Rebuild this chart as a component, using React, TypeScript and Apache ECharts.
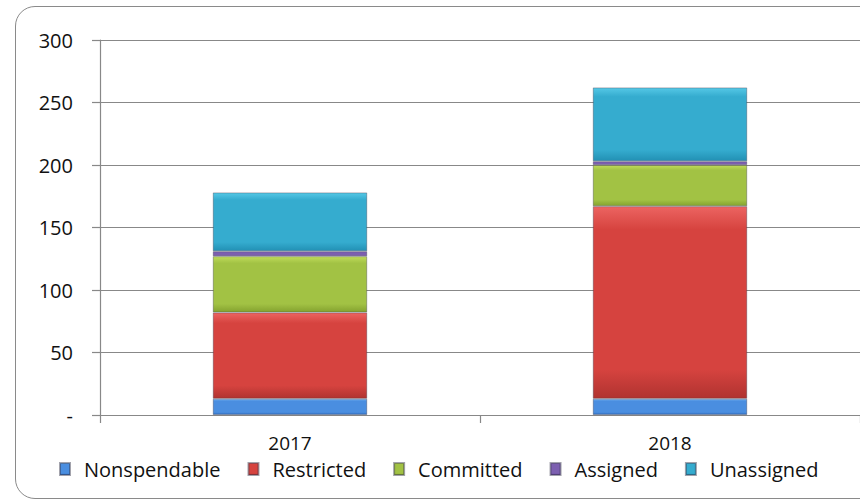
import React, { useEffect, useRef } from "react";
import * as echarts from "echarts";

const categories = ["2017", "2018"];
const seriesNames = ["Nonspendable", "Restricted", "Committed", "Assigned", "Unassigned"];
const nonspendable = [13, 13];
const restricted = [69, 154];
const committed = [45, 33];
const assigned = [4, 3];
const unassigned = [47, 59];
const yTicks = [0, 50, 100, 150, 200, 250, 300];

const colors = [
  ["#78b6f2", "#4a8ee0", "#2e68b8"],
  ["#ec6461", "#d6433f", "#b03330"],
  ["#c0dc5a", "#a2c244", "#84a22f"],
  ["#9c82c8", "#7c5fb0", "#5f4390"],
  ["#55c8e6", "#35accf", "#2290b4"],
];

export default function App() {
  const ref = useRef<HTMLDivElement>(null);
  useEffect(() => {
    const chart = echarts.init(ref.current!, null, { renderer: "svg" });
    const data = [nonspendable, restricted, committed, assigned, unassigned];
    const font = "'Open Sans', sans-serif";
    chart.setOption({
      animation: false,
      textStyle: { fontFamily: font },
      color: colors.map((c) => c[1]),
      grid: { left: 100, right: -8, top: 40, bottom: 86 },
      legend: {
        top: 459,
        left: 59,
        padding: 0,
        itemWidth: 10,
        itemHeight: 12,
        itemGap: 27,
        icon: "rect",
        textStyle: { fontSize: 20, color: "#111", fontFamily: font, padding: [0, 0, 0, 9] },
        data: seriesNames,
      },
      xAxis: {
        type: "category",
        data: categories,
        axisLine: { lineStyle: { color: "#888", width: 1.2 } },
        axisTick: { show: true, length: 8, lineStyle: { color: "#888", width: 1.2 } },
        axisLabel: { fontSize: 19, color: "#111", margin: 18 },
      },
      yAxis: {
        type: "value",
        min: 0,
        max: 300,
        interval: 50,
        axisLine: { show: true, lineStyle: { color: "#888", width: 1.2 } },
        axisTick: { show: true, length: 8, lineStyle: { color: "#888", width: 1.2 } },
        splitLine: { lineStyle: { color: "#888", width: 1.2 } },
        axisLabel: {
          fontSize: 20,
          color: "#111",
          margin: 27,
          formatter: (v: number) => (v === 0 ? "-" : yTicks.includes(v) ? String(v) : ""),
        },
      },
      series: seriesNames.map((name, i) => ({
        name,
        type: "bar",
        stack: "total",
        barWidth: "40.6%",
        data: data[i],
        itemStyle: {
          color: new echarts.graphic.LinearGradient(0, 0, 0, 1, [
            { offset: 0, color: colors[i][0] },
            { offset: 0.12, color: colors[i][1] },
            { offset: 0.85, color: colors[i][1] },
            { offset: 1, color: colors[i][2] },
          ]),
          borderColor: "rgba(50,50,70,0.45)",
          borderWidth: 0.8,
        },
      })),
    });
    return () => chart.dispose();
  }, []);
  return (
    <div
      style={{
        position: "fixed",
        left: 0,
        top: 0,
        width: 860,
        height: 501,
        overflow: "hidden",
        background: "#fff",
      }}
    >
      <div
        style={{
          position: "absolute",
          left: 15,
          top: 6,
          width: 1000,
          height: 493,
          border: "1.2px solid #8a8a8a",
          borderRadius: 20,
          boxSizing: "border-box",
        }}
      />
      <div ref={ref} style={{ position: "absolute", left: 0, top: 0, width: 860, height: 501 }} />
    </div>
  );
}
